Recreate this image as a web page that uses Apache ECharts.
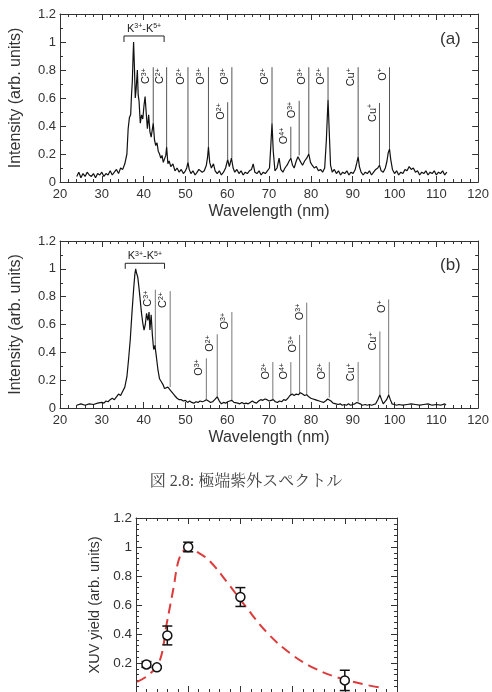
<!DOCTYPE html>
<html><head><meta charset="utf-8">
<script src="https://cdn.jsdelivr.net/npm/echarts@6/dist/echarts.min.js"></script>
<style>html,body{margin:0;padding:0;background:#fff}#c{width:492px;height:692px}</style>
</head><body><div id="c"></div><script>
// ---------- data ----------
const spectrumA = [[24,0.04],[24.5,0.07],[25,0.03],[25.5,0.06],[26,0.04],[26.5,0.07],[27,0.05],[27.5,0.04],[28,0.06],[28.5,0.03],[29,0.06],[29.5,0.05],[30,0.07],[30.5,0.04],[31,0.06],[31.5,0.05],[32,0.08],[32.5,0.05],[33,0.07],[33.5,0.09],[34,0.06],[34.5,0.1],[35,0.09],[35.5,0.13],[35.8,0.12],[36,0.2],[36.3,0.38],[36.6,0.46],[36.9,0.48],[37.1,0.62],[37.3,0.72],[37.5,0.92],[37.6,1.0],[37.8,0.82],[38,0.6],[38.2,0.66],[38.5,0.8],[38.7,0.62],[38.9,0.58],[39.2,0.42],[39.5,0.48],[39.8,0.45],[40.1,0.55],[40.35,0.61],[40.6,0.5],[40.9,0.38],[41.2,0.48],[41.5,0.36],[41.8,0.32],[42.1,0.38],[42.3,0.42],[42.6,0.3],[42.9,0.26],[43.2,0.28],[43.5,0.22],[43.8,0.2],[44.1,0.17],[44.4,0.19],[44.7,0.14],[45,0.15],[45.3,0.19],[45.5,0.25],[45.8,0.13],[46.1,0.15],[46.5,0.11],[47,0.13],[47.5,0.08],[48,0.1],[48.5,0.07],[49,0.09],[49.5,0.06],[50,0.08],[50.3,0.1],[50.6,0.14],[50.9,0.09],[51.3,0.06],[51.8,0.08],[52.3,0.05],[52.8,0.07],[53.2,0.09],[53.6,0.1],[54,0.07],[54.5,0.08],[55,0.12],[55.3,0.18],[55.5,0.25],[55.8,0.14],[56.2,0.1],[56.7,0.13],[57.1,0.08],[57.6,0.06],[58.1,0.08],[58.6,0.05],[59.1,0.07],[59.6,0.1],[60.1,0.16],[60.5,0.11],[61,0.17],[61.4,0.1],[61.8,0.07],[62.3,0.09],[62.8,0.06],[63.3,0.08],[63.8,0.05],[64.3,0.07],[64.8,0.06],[65.3,0.08],[65.8,0.09],[66.2,0.13],[66.6,0.07],[67.1,0.06],[67.6,0.08],[68.1,0.05],[68.6,0.07],[69.1,0.06],[69.6,0.08],[70.1,0.1],[70.4,0.25],[70.7,0.42],[71,0.22],[71.4,0.08],[71.9,0.1],[72.4,0.17],[72.8,0.09],[73.3,0.07],[73.8,0.1],[74.3,0.12],[74.8,0.15],[75.2,0.17],[75.6,0.12],[76,0.1],[76.5,0.15],[76.9,0.18],[77.2,0.19],[77.6,0.14],[78,0.12],[78.5,0.15],[79,0.17],[79.5,0.2],[79.9,0.14],[80.3,0.12],[80.8,0.1],[81.3,0.11],[81.8,0.08],[82.3,0.09],[82.8,0.07],[83.3,0.1],[83.7,0.3],[84.1,0.59],[84.4,0.35],[84.7,0.12],[85.1,0.07],[85.6,0.09],[86.1,0.06],[86.6,0.08],[87.1,0.05],[87.6,0.07],[88.1,0.06],[88.6,0.08],[89.1,0.05],[89.6,0.07],[90.1,0.06],[90.6,0.09],[91,0.14],[91.3,0.18],[91.6,0.11],[92,0.07],[92.5,0.05],[93,0.07],[93.5,0.06],[94,0.08],[94.5,0.05],[95,0.07],[95.5,0.09],[96,0.1],[96.4,0.12],[96.8,0.08],[97.3,0.07],[97.8,0.1],[98.2,0.15],[98.5,0.21],[98.8,0.235],[99.1,0.16],[99.5,0.09],[100,0.06],[100.5,0.08],[101,0.05],[101.5,0.07],[102,0.06],[102.5,0.09],[103,0.08],[103.5,0.11],[104,0.09],[104.5,0.1],[105,0.07],[105.5,0.08],[106,0.05],[106.5,0.07],[107,0.06],[107.5,0.08],[108,0.05],[108.5,0.07],[109,0.06],[109.5,0.08],[110,0.05],[110.5,0.07],[111,0.06],[111.5,0.08],[112,0.05],[112.5,0.07]];

const spectrumB = [[24,0.02],[25,0.03],[26,0.02],[27,0.03],[28,0.025],[29,0.035],[30,0.04],[30.5,0.035],[31,0.05],[31.5,0.045],[32,0.06],[32.5,0.07],[33,0.06],[33.5,0.08],[34,0.1],[34.5,0.09],[35,0.12],[35.5,0.15],[36,0.225],[36.4,0.35],[36.8,0.49],[37.2,0.68],[37.6,0.85],[37.9,0.96],[38.1,1.0],[38.3,0.97],[38.6,0.94],[38.9,0.86],[39.1,0.8],[39.5,0.68],[39.8,0.61],[40.1,0.56],[40.4,0.6],[40.7,0.68],[41,0.63],[41.3,0.69],[41.5,0.56],[41.8,0.67],[42.1,0.52],[42.4,0.42],[42.7,0.45],[43,0.38],[43.4,0.28],[43.8,0.21],[44.2,0.19],[44.6,0.17],[45,0.14],[45.4,0.13],[45.8,0.15],[46.2,0.155],[46.6,0.12],[47,0.11],[47.4,0.09],[48,0.07],[48.5,0.06],[49,0.06],[49.5,0.05],[50,0.055],[50.5,0.04],[51,0.05],[51.5,0.04],[52,0.035],[52.5,0.045],[53,0.04],[53.5,0.05],[54,0.045],[54.5,0.05],[55,0.06],[55.5,0.05],[56,0.04],[56.5,0.045],[57,0.06],[57.6,0.08],[58.1,0.05],[58.6,0.03],[59.1,0.04],[59.6,0.035],[60.1,0.045],[60.6,0.05],[61.1,0.055],[61.6,0.04],[62,0.03],[62.5,0.035],[63,0.03],[63.5,0.04],[64,0.03],[64.5,0.035],[65,0.03],[65.5,0.04],[66,0.05],[66.5,0.04],[67,0.035],[67.5,0.05],[68,0.06],[68.5,0.055],[69,0.065],[69.5,0.06],[70,0.05],[70.5,0.055],[71,0.06],[71.5,0.045],[72,0.04],[72.5,0.05],[73,0.045],[73.5,0.06],[74,0.055],[74.5,0.07],[75,0.09],[75.5,0.1],[76,0.09],[76.5,0.1],[77,0.095],[77.5,0.11],[78,0.1],[78.5,0.09],[79,0.095],[79.5,0.08],[80,0.07],[80.5,0.065],[81,0.06],[81.5,0.055],[82,0.05],[82.5,0.045],[83,0.04],[83.5,0.05],[84,0.065],[84.4,0.075],[84.8,0.05],[85.3,0.035],[86,0.03],[86.5,0.025],[87,0.03],[87.5,0.02],[88,0.025],[88.5,0.02],[89,0.03],[89.5,0.02],[90,0.025],[90.5,0.03],[91,0.04],[91.4,0.045],[91.8,0.03],[92.3,0.02],[93,0.025],[93.5,0.02],[94,0.025],[94.5,0.02],[95,0.025],[95.5,0.03],[96,0.06],[96.5,0.093],[96.9,0.06],[97.3,0.03],[97.7,0.025],[98.1,0.06],[98.6,0.093],[99,0.06],[99.4,0.03],[100,0.025],[100.5,0.02],[101,0.025],[102,0.02],[103,0.025],[104,0.03],[105,0.025],[106,0.02],[107,0.025],[108,0.03],[109,0.02],[110,0.025],[111,0.02],[112,0.03],[112.3,0.02]];

// ion line annotations, panel (a)
const ionA      = ['C','C','O','O','O','O','O','O','O','O','O','Cu','Cu','O'];
const chargeA   = ['3+','2+','2+','3+','2+','3+','2+','4+','3+','3+','2+','+','+','+'];
const lineXA    = [42.3,45.5,50.6,55.5,60.1,61.1,70.7,75.2,77.2,79.5,84.1,91.3,96.4,98.8];
const lineTopA  = [0.82,0.82,0.82,0.82,0.57,0.82,0.82,0.395,0.58,0.82,0.82,0.82,0.565,0.82];
const lineBotA  = [0.42,0.25,0.14,0.25,0.16,0.17,0.42,0.17,0.19,0.2,0.59,0.18,0.12,0.235];
// ion line annotations, panel (b)
const ionB      = ['C','C','O','O','O','O','O','O','O','O','Cu','Cu','O'];
const chargeB   = ['3+','2+','3+','2+','3+','2+','4+','3+','3+','2+','+','+','+'];
const lineXB    = [42.8,46.35,55.0,57.6,61.1,70.9,75.2,77.3,79.0,84.4,91.3,96.5,98.6];
const lineTopB  = [0.85,0.84,0.357,0.53,0.69,0.33,0.33,0.525,0.757,0.33,0.33,0.55,0.78];
const lineBotB  = [0.44,0.15,0.06,0.08,0.055,0.06,0.09,0.1,0.095,0.075,0.045,0.093,0.093];
// K3+-K5+ bracket [xStart, xEnd, level, foot]
const bracketA = [35.3, 44.9, 1.043, 1.0];
const bracketB = [35.6, 45.0, 1.04, 1.0];
const bracketLabel = ['K','3+','-','K','5+'];

// panel (c): XUV yield
const yieldX   = [0.2, 0.4, 0.6, 1, 2, 4];
const yieldY   = [0.19, 0.17, 0.39, 1.0, 0.655, 0.08];
const yieldErr = [0.02, 0.008, 0.065, 0.033, 0.065, 0.07];
const fitX = [0.02,0.25,0.45,0.59,0.72,0.81,0.91,1.0,1.2,1.42,1.74,2.1,2.51,2.96,3.41,3.86,4.4,4.7];
const fitY = [0.07,0.12,0.21,0.475,0.72,0.9,0.975,0.99,0.96,0.9,0.76,0.59,0.41,0.265,0.165,0.1,0.05,0.03];

const caption = '図 2.8: 極端紫外スペクトル';

// ---------- chart ----------
const FONT = 'Liberation Sans, Arial, Helvetica, sans-serif';
const AX = '#333';
const chart = echarts.init(document.getElementById('c'), null, {renderer:'canvas'});

function fmtY(v){ return String(+v.toFixed(1)); }

function xAx(gi, min, max, interval, showLabel, name, top, fs, minorSplit){
  return {
    type:'value', gridIndex:gi, min, max, interval, position: top ? 'top' : 'bottom',
    axisLine:{show:true, onZero:false, lineStyle:{color:AX, width:1}},
    axisTick:{show:true, inside:true, length:6, lineStyle:{color:AX}},
    minorTick:{show:true, splitNumber:minorSplit, length:3, lineStyle:{color:AX}},
    splitLine:{show:false}, minorSplitLine:{show:false},
    axisLabel:{show:showLabel, fontSize:fs, color:'#333', fontFamily:FONT, margin:6},
    name: name || '', nameLocation:'middle', nameGap:22,
    nameTextStyle:{fontSize:16, color:'#333', fontFamily:FONT}
  };
}
function yAx(gi, showLabel, name, right, fs, nameFs, nameGap, minorSplit, hideZero){
  return {
    type:'value', gridIndex:gi, min:0, max:1.2, interval:0.2, position: right ? 'right':'left',
    axisLine:{show:true, onZero:false, lineStyle:{color:AX, width:1}},
    axisTick:{show:true, inside:true, length:6, lineStyle:{color:AX}},
    minorTick:{show:true, splitNumber:minorSplit, length:3, lineStyle:{color:AX}},
    splitLine:{show:false}, minorSplitLine:{show:false},
    axisLabel:{show:showLabel, fontSize:fs, color:'#333', fontFamily:FONT, margin:4,
      formatter: v => (hideZero && v === 0) ? '' : fmtY(v)},
    name: name || '', nameLocation:'middle', nameGap:nameGap,
    nameTextStyle:{fontSize:nameFs, color:'#333', fontFamily:FONT}
  };
}

function annotSeries(axi, ion, chg, xs, tops, bots, color){
  return {
    type:'custom', xAxisIndex:axi, yAxisIndex:axi, silent:true, clip:false, z:3,
    data: xs.map((x,i)=>[x, tops[i], bots[i], i]),
    encode:{x:0, y:[1,2]},
    renderItem(params, api){
      const i = api.value(3);
      const p1 = api.coord([api.value(0), api.value(1)]);
      const p2 = api.coord([api.value(0), api.value(2)]);
      return {type:'group', children:[
        {type:'line', shape:{x1:p1[0], y1:p1[1], x2:p2[0], y2:p2[1]},
          style:{stroke:color, lineWidth:1}},
        {type:'text', x:p1[0]-1.5, y:p1[1]+1, rotation:Math.PI/2,
          style:{text: ion[i] + '{s|' + chg[i] + '}', fontSize:11, fontFamily:FONT, fill:'#222',
            align:'right', verticalAlign:'bottom',
            rich:{s:{fontSize:7, fontFamily:FONT, fill:'#222', verticalAlign:'top'}}}}
      ]};
    }
  };
}

function bracketSeries(axi, br){
  return {
    type:'custom', xAxisIndex:axi, yAxisIndex:axi, silent:true, clip:false, z:3,
    data:[[br[0], br[1], br[2], br[3]]],
    encode:{x:[0,1], y:[2,3]},
    renderItem(params, api){
      const a = api.coord([api.value(0), api.value(3)]);
      const b = api.coord([api.value(0), api.value(2)]);
      const c = api.coord([api.value(1), api.value(2)]);
      const d = api.coord([api.value(1), api.value(3)]);
      const mid = (b[0]+c[0])/2;
      return {type:'group', children:[
        {type:'polyline', shape:{points:[a,b,c,d]}, style:{stroke:'#222', lineWidth:1, fill:null}},
        {type:'text', x:mid, y:b[1]-2,
          style:{text: bracketLabel[0] + '{s|' + bracketLabel[1] + '}' + bracketLabel[2] + bracketLabel[3] + '{s|' + bracketLabel[4] + '}',
            fontSize:11, fontFamily:FONT, fill:'#222', align:'center', verticalAlign:'bottom',
            rich:{s:{fontSize:7, fontFamily:FONT, fill:'#222', verticalAlign:'top'}}}}
      ]};
    }
  };
}

const option = {
  animation:false,
  backgroundColor:'#fff',
  grid:[
    {left:56, top:14, width:424, height:168},
    {left:57, top:241, width:425, height:167},
    {left:136, top:518, width:261, height:180}
  ],
  xAxis:[
    xAx(0,20,120,10,true,'Wavelength (nm)',false,13,5),
    xAx(1,20,120,10,true,'Wavelength (nm)',false,13,5),
    xAx(2,0,5,1,false,'',false,13,5),
    xAx(0,20,120,10,false,'',true,13,5),
    xAx(1,20,120,10,false,'',true,13,5),
    xAx(2,0,5,1,false,'',true,13,5)
  ],
  yAxis:[
    yAx(0,true,'Intensity (arb. units)',false,13,16,36,2,false),
    yAx(1,true,'Intensity (arb. units)',false,13,16,36,2,false),
    yAx(2,true,'XUV yield (arb. units)',false,13.5,14.5,34,5,true),
    yAx(0,false,'',true,13,16,30,2,false),
    yAx(1,false,'',true,13,16,30,2,false),
    yAx(2,false,'',true,13,16,30,5,false)
  ],
  series:[
    {type:'line', xAxisIndex:0, yAxisIndex:0, data:spectrumA, showSymbol:false, symbol:'none',
      lineStyle:{color:'#111', width:1.2}, z:4},
    {type:'line', xAxisIndex:1, yAxisIndex:1, data:spectrumB, showSymbol:false, symbol:'none',
      lineStyle:{color:'#111', width:1.2}, z:4},
    annotSeries(0, ionA, chargeA, lineXA, lineTopA, lineBotA, '#555'),
    annotSeries(1, ionB, chargeB, lineXB, lineTopB, lineBotB, '#777'),
    bracketSeries(0, bracketA),
    bracketSeries(1, bracketB),
    {type:'line', xAxisIndex:2, yAxisIndex:2, data:fitX.map((x,i)=>[x,fitY[i]]), smooth:0.4,
      showSymbol:false, symbol:'none', lineStyle:{color:'#dd3b3b', width:2, type:[10,6]}, z:2},
    {type:'custom', xAxisIndex:2, yAxisIndex:2, z:3, clip:false,
      data: yieldX.map((x,i)=>[x, yieldY[i]-yieldErr[i], yieldY[i]+yieldErr[i]]),
      encode:{x:0, y:[1,2]},
      renderItem(params, api){
        const lo = api.coord([api.value(0), api.value(1)]);
        const hi = api.coord([api.value(0), api.value(2)]);
        const w = 5;
        const st = {stroke:'#111', lineWidth:1.5};
        return {type:'group', children:[
          {type:'line', shape:{x1:lo[0], y1:lo[1], x2:hi[0], y2:hi[1]}, style:st},
          {type:'line', shape:{x1:lo[0]-w, y1:lo[1], x2:lo[0]+w, y2:lo[1]}, style:st},
          {type:'line', shape:{x1:hi[0]-w, y1:hi[1], x2:hi[0]+w, y2:hi[1]}, style:st}
        ]};
      }},
    {type:'scatter', xAxisIndex:2, yAxisIndex:2, data:yieldX.map((x,i)=>[x,yieldY[i]]),
      symbol:'circle', symbolSize:9, z:5,
      itemStyle:{color:'#fff', opacity:1, borderColor:'#111', borderWidth:1.5}}
  ],
  graphic:[
    {type:'text', left:440, top:31, style:{text:'(a)', fontSize:17, fontFamily:FONT, fill:'#333'}},
    {type:'text', left:440, top:257, style:{text:'(b)', fontSize:17, fontFamily:FONT, fill:'#333'}},
    {type:'text', left:'center', top:474,
      style:{text:caption, fontSize:16, fontFamily:'Liberation Serif, "Noto Serif CJK JP", "Noto Sans CJK JP", serif', fill:'#444'}}
  ]
};
chart.setOption(option);
</script></body></html>
